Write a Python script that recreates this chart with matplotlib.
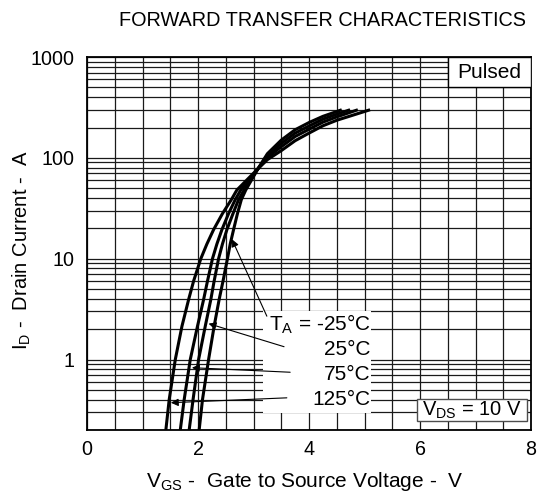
import numpy as np
import matplotlib.pyplot as plt
from matplotlib.patches import Rectangle

plt.rcParams['font.family'] = ['Liberation Sans', 'DejaVu Sans']
plt.rcParams['mathtext.fontset'] = 'custom'
plt.rcParams['mathtext.rm'] = 'Liberation Sans'

# Transfer curves, VGS (V) vs ID (A)
id_levels = [0.2, 0.4, 1.0, 2.14, 3.93, 6, 10, 14, 19.4, 28, 38.5, 48, 78]

vgs_m25 = [2.02, 2.08, 2.19, 2.29, 2.38, 2.45, 2.53, 2.58, 2.64, 2.71, 2.78, 2.86, 3.08,
           3.25, 3.5, 3.75, 4.0, 4.25, 4.5, 4.59]
id_m25 = id_levels + [110, 150, 190, 224, 258, 288, 300]

vgs_25 = [1.84, 1.91, 2.01, 2.13, 2.23, 2.29, 2.37, 2.44, 2.52, 2.63, 2.73, 2.83, 3.08,
          3.25, 3.5, 3.75, 4.0, 4.25, 4.5, 4.74]
id_25 = id_levels + [106, 139, 176, 207, 242, 271, 300]

vgs_75 = [1.68, 1.75, 1.86, 1.99, 2.10, 2.17, 2.26, 2.34, 2.43, 2.55, 2.67, 2.77, 3.08,
          3.25, 3.5, 3.75, 4.0, 4.25, 4.5, 4.88]
id_75 = id_levels + [101, 129, 163, 192, 226, 255, 300]

vgs_125 = [1.42, 1.48, 1.59, 1.71, 1.83, 1.92, 2.05, 2.16, 2.28, 2.44, 2.60, 2.70, 3.08,
           3.25, 3.5, 3.75, 4.0, 4.25, 4.5, 5.10]
id_125 = id_levels + [96, 118, 148, 176, 208, 236, 300]

x_ticks = [0, 2, 4, 6, 8]
y_ticks = [1, 10, 100, 1000]

# label text, arrow tip (VGS, ID), arrow tail (VGS, ID), label height (ID)
labels = ['T$_\\mathregular{A}$ = -25°C', '25°C', '75°C', '125°C']
tips = [(2.61, 15.6), (2.19, 2.27), (1.89, 0.83), (1.51, 0.373)]
tails = [(3.24, 2.69), (3.55, 1.34), (3.66, 0.748), (3.60, 0.417)]
label_y = [2.25, 1.27, 0.71, 0.40]

fig = plt.figure(figsize=(5.51, 4.95), dpi=100)
ax = fig.add_axes([0.158, 0.1313, 0.8057, 0.7535])

ax.set_yscale('log')
ax.set_xlim(0, 8)
ax.set_ylim(0.2, 1000)

ax.set_xticks(np.arange(0, 8.01, 0.5), minor=True)
ax.set_xticks(x_ticks)
ax.set_xticklabels([str(v) for v in x_ticks])
ax.set_yticks(y_ticks)
ax.set_yticklabels([str(v) for v in y_ticks])
ax.tick_params(which='both', length=0, labelsize=14.2)
ax.tick_params(axis='x', pad=7)
ax.tick_params(axis='y', pad=9)
ax.grid(True, which='both', color='0.1', lw=0.9, zorder=0)
ax.set_axisbelow(True)
for s in ax.spines.values():
    s.set_linewidth(1.3)

for vx, iy in [(vgs_m25, id_m25), (vgs_25, id_25), (vgs_75, id_75), (vgs_125, id_125)]:
    ax.plot(vx, iy, color='black', lw=2.2, solid_capstyle='butt', solid_joinstyle='round', zorder=4)

# white area behind the temperature labels
ax.add_patch(Rectangle((0.396, 0.046), 0.244, 0.272, transform=ax.transAxes,
                       facecolor='white', edgecolor='none', zorder=2))

for lab, tip, tail, ly in zip(labels, tips, tails, label_y):
    ax.annotate('', xy=tip, xytext=tail,
                arrowprops=dict(arrowstyle='-|>', color='black', lw=0.8,
                                mutation_scale=11, shrinkA=0, shrinkB=0), zorder=5)
    ax.text(5.11, ly, lab, ha='right', va='center', fontsize=15, zorder=6)

# Pulsed box
ax.add_patch(Rectangle((0.813, 0.92), 0.187, 0.08, transform=ax.transAxes,
                       facecolor='white', edgecolor='black', lw=1.0, zorder=3))
ax.text(0.9065, 0.958, 'Pulsed', transform=ax.transAxes, ha='center', va='center',
        fontsize=15, zorder=6)

# VDS box
ax.add_patch(Rectangle((0.743, 0.024), 0.248, 0.059, transform=ax.transAxes,
                       facecolor='white', edgecolor='0.3', lw=1.0, zorder=3))
ax.text(0.867, 0.0535, 'V$_\\mathregular{DS}$ = 10 V', transform=ax.transAxes,
        ha='center', va='center', fontsize=14.5, zorder=6)

fig.text(0.586, 0.959, 'FORWARD TRANSFER CHARACTERISTICS', ha='center', va='center', fontsize=14.3)
ax.set_xlabel('V$_\\mathregular{GS}$ -  Gate to Source Voltage -  V', fontsize=15, va='center')
ax.set_ylabel('I$_\\mathregular{D}$ -  Drain Current -  A', fontsize=14.5, va='center')
ax.xaxis.set_label_coords(0.491, -0.139)
ax.yaxis.set_label_coords(-0.146, 0.483)

fig.savefig('out.png', dpi=100)
